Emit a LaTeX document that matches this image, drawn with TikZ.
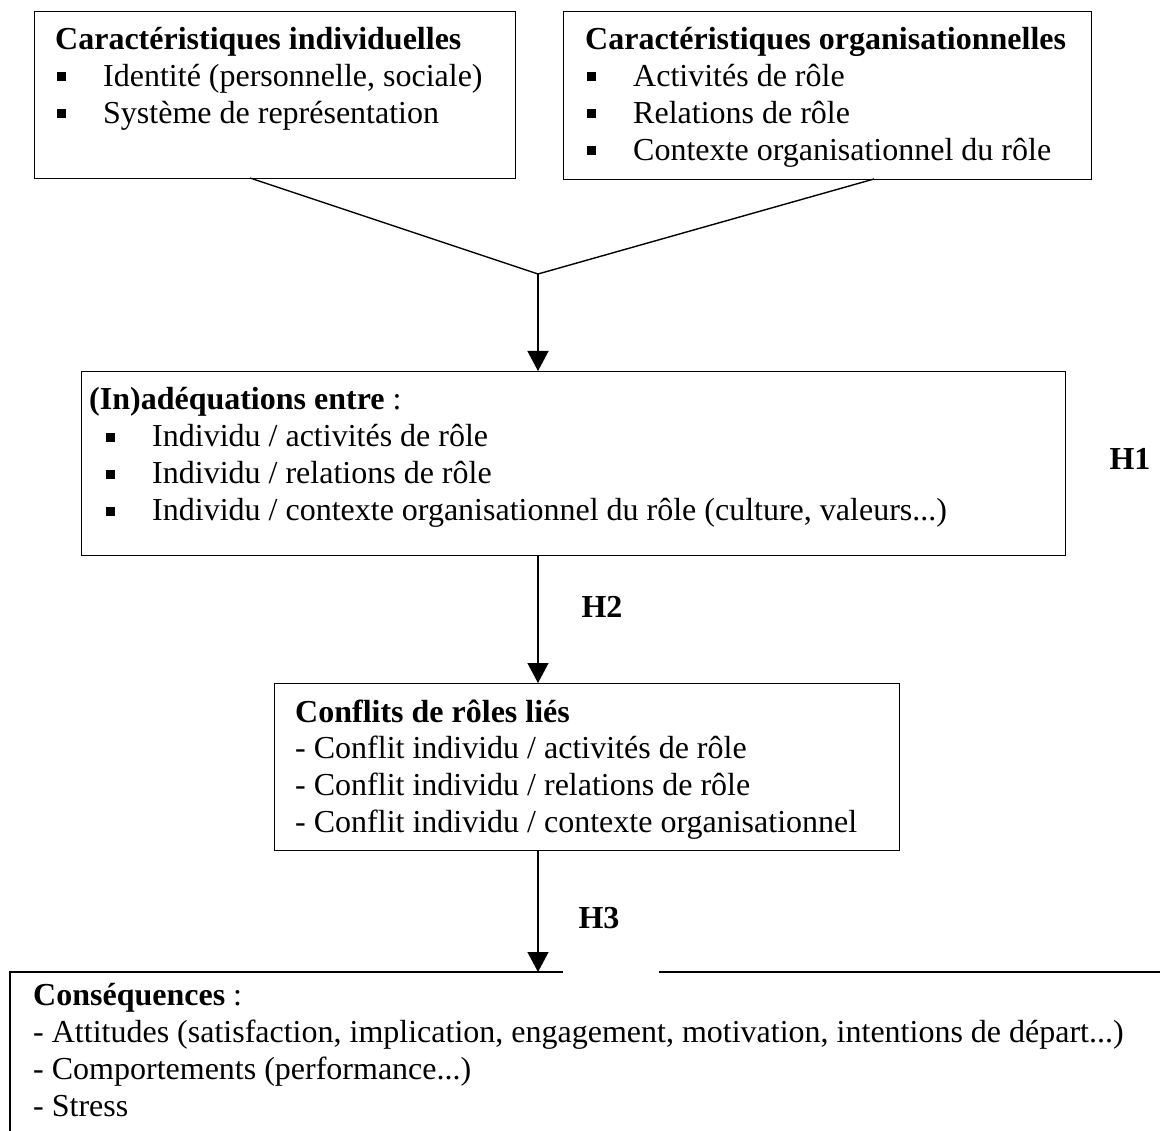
\documentclass[tikz,border=0pt]{standalone}
\usepackage{fontspec}
\setmainfont{Liberation Serif}
\usetikzlibrary{arrows.meta}
\newcommand{\bul}{\makebox[0pt][r]{\rule[5.5pt]{9pt}{9pt}\hspace{37pt}}}
\begin{document}
\begin{tikzpicture}[x=1pt,y=-1pt,
  box/.style={draw, line width=1.4pt, inner sep=0pt, anchor=north west},
  txt/.style={anchor=base west, inner sep=0pt, font=\fontsize{32}{36.8}\selectfont},
  hlab/.style={anchor=base, inner sep=0pt, font=\fontsize{32}{36.8}\selectfont\bfseries},
  conn/.style={line width=1.4pt},
  arr/.style={conn, -{Triangle[width=21pt,length=20pt]}}]
\useasboundingbox[fill=white] (0,0) rectangle (1160,1131);

% boxes
\node[box, minimum width=481pt, minimum height=167pt] (b1) at (34,11) {};
\node[box, minimum width=528pt, minimum height=168pt] (b2) at (563,11) {};
\node[box, minimum width=984pt, minimum height=184pt] (b3) at (81,371) {};
\node[box, minimum width=625pt, minimum height=167pt] (b4) at (274,683) {};
\node[box, draw=none, minimum width=1160pt, minimum height=180pt] (b5) at (10,972) {};
\coordinate (g1) at (563,972);
\coordinate (g2) at (659,972);
\draw[line width=2pt] (b5.south west) -- (b5.north west) -- (g1);
\draw[line width=2pt] (g2) -- (b5.north east);

% texts box 1
\node[txt] (t11) at (55,50) {\textbf{Caractéristiques individuelles}};
\node[txt] (t12) at (103,87) {\bul Identité (personnelle, sociale)};
\node[txt] (t13) at (103,124) {\bul Système de représentation};

% texts box 2
\node[txt] (t21) at (585,50) {\textbf{Caractéristiques organisationnelles}};
\node[txt] (t22) at (633,87) {\bul Activités de rôle};
\node[txt] (t23) at (633,124) {\bul Relations de rôle};
\node[txt] (t24) at (633,161) {\bul Contexte organisationnel du rôle};

% texts box 3
\node[txt] (t31) at (89,410) {\textbf{(In)adéquations entre} :};
\node[txt] (t32) at (152,447) {\bul Individu / activités de rôle};
\node[txt] (t33) at (152,484) {\bul Individu / relations de rôle};
\node[txt] (t34) at (152,521) {\bul Individu / contexte organisationnel du rôle (culture, valeurs...)};

% texts box 4
\node[txt] (t41) at (295,722) {\textbf{Conflits de rôles liés}};
\node[txt] (t42) at (295,758) {- Conflit individu / activités de rôle};
\node[txt] (t43) at (295,795) {- Conflit individu / relations de rôle};
\node[txt] (t44) at (295,832) {- Conflit individu / contexte organisationnel};

% texts box 5
\node[txt] (t51) at (33,1005) {\textbf{Conséquences} :};
\node[txt] (t52) at (33,1042) {- Attitudes (satisfaction, implication, engagement, motivation, intentions de départ...)};
\node[txt] (t53) at (33,1079) {- Comportements (performance...)};
\node[txt] (t54) at (33,1116) {- Stress};

% hypothesis labels
\node[hlab] (h1) at (1130,470) {H1};
\node[hlab] (h2) at (602,617) {H2};
\node[hlab] (h3) at (599,928) {H3};

% connectors
\coordinate (s1) at (250,178);
\coordinate (s2) at (874,179);
\coordinate (j) at (538,274);
\draw[conn] (s1) -- (j) -- (s2);
\draw[arr] (j) -- (j |- b3.north);
\draw[arr] (b3.south -| j) -- (b4.north -| j);
\draw[arr] (b4.south -| j) -- (b5.north -| j);
\end{tikzpicture}
\end{document}
